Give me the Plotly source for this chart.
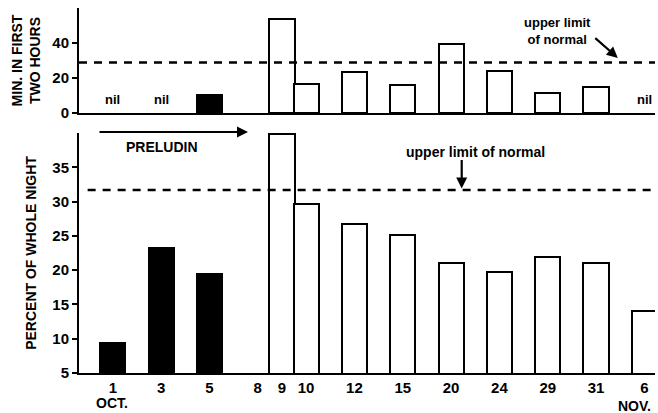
import plotly.graph_objects as go

# ---- data ----
date_labels = ["1", "3", "5", "8", "9", "10", "12", "15", "20", "24", "29", "31", "6"]
slot = [0, 1, 2, 3, 3.5, 4, 5, 6, 7, 8, 9, 10, 11]
on_preludin = [True, True, True, False, False, False, False, False, False, False, False, False, False]
min_first_two_hours = [None, None, 10.3, None, 54, 16.6, 23.4, 16, 39.4, 24, 11.4, 15, None]
nil_days = [0, 1, 12]  # indices of dates recorded as "nil"
pct_whole_night = [9.4, 23.3, 19.5, None, 39.9, 29.7, 26.7, 25.1, 21.0, 19.7, 21.9, 21.0, 14.0]
upper_limit_top = 28.8
upper_limit_bottom = 31.7

FONT = "Liberation Sans"
W, H = 658, 413
L, R, T, B = 79, 655, 8, 373  # plot-area pixel box

def px_x(p):
    return (p - L) / (R - L)

def px_y(p):
    return (B - p) / (B - T)

fills = ["black" if d else "white" for d in on_preludin]

fig = go.Figure()
fig.add_trace(go.Bar(
    x=slot, y=pct_whole_night, width=0.52,
    marker=dict(color=fills, line=dict(color="black", width=2)),
    xaxis="x", yaxis="y", showlegend=False))
fig.add_trace(go.Bar(
    x=slot, y=min_first_two_hours, width=0.52,
    marker=dict(color=fills, line=dict(color="black", width=2)),
    xaxis="x2", yaxis="y2", showlegend=False))

xr = [-0.7, 11.22]
tickfont = dict(family=FONT, size=15, color="black", weight="bold")
titlefont = dict(family=FONT, size=14, color="black", weight="bold")

fig.update_layout(
    width=W, height=H, margin=dict(l=L, r=W - R, t=T, b=H - B, autoexpand=False),
    paper_bgcolor="white", plot_bgcolor="white",
    bargap=0,
    xaxis=dict(domain=[0, 1], range=xr, tickvals=slot, ticktext=date_labels,
               showline=True, linecolor="black", linewidth=2, ticks="",
               showgrid=False, zeroline=False, tickfont=tickfont, automargin=False),
    yaxis=dict(domain=[0, px_y(133)], range=[5, 40],
               tickvals=[5, 10, 15, 20, 25, 30, 35],
               showline=True, linecolor="black", linewidth=2, ticks="outside",
               ticklen=5, tickwidth=2, tickcolor="black",
               showgrid=False, zeroline=False, tickfont=tickfont, automargin=False,
               title=dict(text="PERCENT OF WHOLE NIGHT", font=titlefont, standoff=12)),
    xaxis2=dict(domain=[0, 1], range=xr, anchor="y2", showticklabels=False,
                showline=True, linecolor="black", linewidth=2, ticks="",
                showgrid=False, zeroline=False, automargin=False),
    yaxis2=dict(domain=[px_y(113), 1], range=[0, 60],
                tickvals=[0, 20, 40], anchor="x2",
                showline=True, linecolor="black", linewidth=2, ticks="outside",
                ticklen=5, tickwidth=2, tickcolor="black",
                showgrid=False, zeroline=False, tickfont=tickfont, automargin=False,
                title=dict(text="MIN. IN FIRST<br>TWO HOURS", font=titlefont, standoff=8)),
)

# dashed upper-limit lines
fig.add_shape(type="line", xref="x2 domain", yref="y2", x0=0, x1=1,
              y0=upper_limit_top, y1=upper_limit_top,
              line=dict(color="black", width=2.5, dash="8px,7px"))
fig.add_shape(type="line", xref="x domain", yref="y", x0=0.015, x1=1,
              y0=upper_limit_bottom, y1=upper_limit_bottom,
              line=dict(color="black", width=2.5, dash="8px,7px"))

def txt(x, y, text, xref="paper", yref="paper", size=13):
    return dict(x=x, y=y, xref=xref, yref=yref, text=text, showarrow=False,
                xanchor="center", yanchor="middle",
                font=dict(family=FONT, size=size, color="black", weight="bold"))

anns = []
for i in nil_days:
    anns.append(txt(slot[i], 7.5, "nil", "x2", "y2", 13))
anns.append(txt(px_x(557), px_y(31), "upper limit<br>of normal", size=13))
anns.append(dict(x=10.45, y=31.5, xref="x2", yref="y2", text="", showarrow=True,
                 ax=-24, ay=-21, arrowhead=2, arrowsize=1, arrowwidth=2.2, arrowcolor="black"))
anns.append(txt(px_x(475), px_y(152), "upper limit of normal", size=14))
anns.append(dict(x=7.22, y=upper_limit_bottom + 0.2, xref="x", yref="y", text="", showarrow=True,
                 ax=0, ay=-30, arrowhead=2, arrowsize=1, arrowwidth=2.2, arrowcolor="black"))
anns.append(txt(px_x(162), px_y(147), "PRELUDIN", size=14))
anns.append(dict(x=px_x(248), y=px_y(132), xref="paper", yref="paper", text="", showarrow=True,
                 ax=-150, ay=0, arrowhead=2, arrowsize=1, arrowwidth=2.2, arrowcolor="black"))
anns.append(txt(px_x(112), px_y(403), "OCT.", size=14))
anns.append(txt(px_x(634), px_y(406), "NOV.", size=14))
fig.update_layout(annotations=anns)

fig.write_html("out.html")
